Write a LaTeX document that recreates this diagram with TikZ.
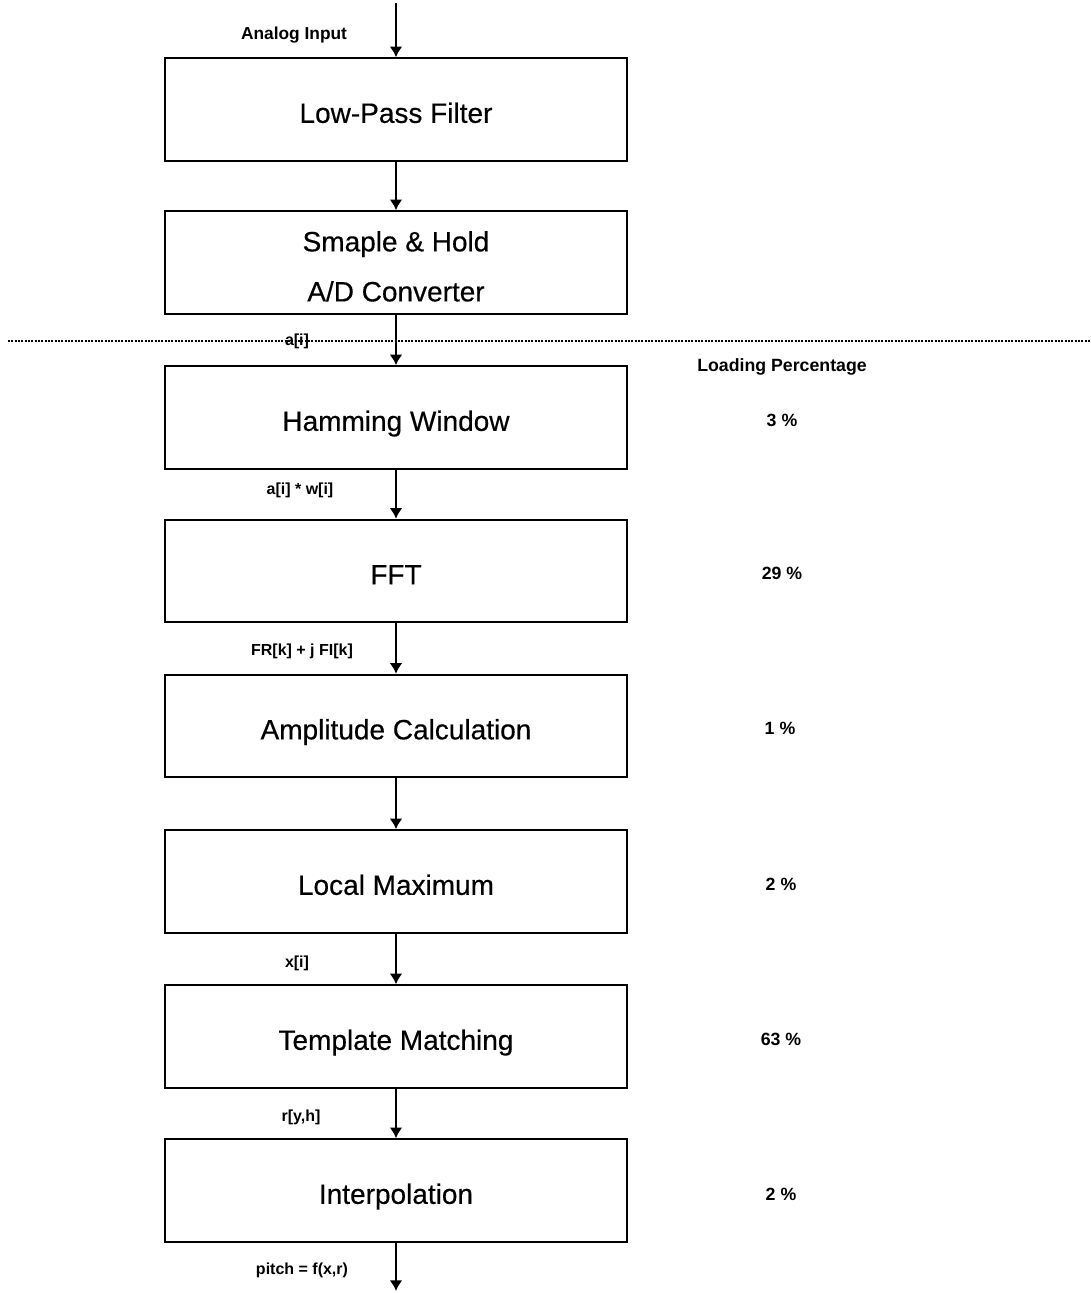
\documentclass[tikz,border=0pt]{standalone}
\usepackage{fontspec}
\setmainfont{Liberation Sans}
\newfontfamily\boxfont[FakeBold=0.4]{Liberation Sans}
\usetikzlibrary{arrows.meta}
\begin{document}
\begin{tikzpicture}[x=0.75pt,y=-0.75pt,
  stagebox/.style={draw, line width=1.4pt, minimum width=346.5pt, minimum height=77pt,
    inner sep=0pt, font=\boxfont\fontsize{21}{37.5}\selectfont, align=center},
  oneline/.style={text height=20pt, text depth=0pt},
  arr/.style={line width=1.3pt, -{Latex[length=8pt,width=9.5pt]}},
  lbl/.style={font=\bfseries\fontsize{12}{14}\selectfont, inner sep=0pt},
  pct/.style={font=\bfseries\fontsize{13.3}{15}\selectfont, inner sep=0pt}]
\useasboundingbox (0,0) rectangle (1090,1293);
% stages
\node[stagebox, oneline] (lpf) at (396,109.5) {Low-Pass Filter};
\node[stagebox] (sh)  at (396,262.5) {\rule{0pt}{21pt}Smaple \& Hold\\A/D Converter};
\node[stagebox, oneline] (ham) at (396,417.5) {Hamming Window};
\node[stagebox, oneline] (fft) at (396,571) {FFT};
\node[stagebox, oneline] (amp) at (396,726) {Amplitude Calculation};
\node[stagebox, oneline] (lmx) at (396,881.5) {Local Maximum};
\node[stagebox, oneline] (tpl) at (396,1036.5) {Template Matching};
\node[stagebox, oneline] (itp) at (396,1190.5) {Interpolation};
% free ends
\coordinate (in) at (396,3);
\coordinate (out) at (396,1291);
\coordinate (dl) at (8,341);
\coordinate (dr) at (1090,341);
% separator
\draw[line width=1pt, dash pattern=on 1.5pt off 1pt] (dl) -- (dr);
% connectors
\draw[arr] (in) -- (lpf);
\draw[arr] (lpf) -- (sh);
\draw[arr] (sh) -- (ham);
\draw[arr] (ham) -- (fft);
\draw[arr] (fft) -- (amp);
\draw[arr] (amp) -- (lmx);
\draw[arr] (lmx) -- (tpl);
\draw[arr] (tpl) -- (itp);
\draw[arr] (itp) -- (out);
% signal labels
\node[lbl, font=\bfseries\fontsize{13}{15}\selectfont] (lin) at (294,35) {Analog Input};
\node[lbl] (lai) at (297,341) {a[i]};
\node[lbl] (law) at (300,490) {a[i] * w[i]};
\node[lbl] (lfr) at (302,651) {FR[k] + j FI[k]};
\node[lbl] (lxi) at (297,963) {x[i]};
\node[lbl] (lry) at (301,1117) {r[y,h]};
\node[lbl] (lpi) at (302,1270) {pitch = f(x,r)};
% loading percentages
\node[pct] (lph) at (782,367) {Loading Percentage};
\node[pct] (p1) at (782,420) {3 \%};
\node[pct] (p2) at (782,573) {29 \%};
\node[pct] (p3) at (780,728) {1 \%};
\node[pct] (p4) at (781,884) {2 \%};
\node[pct] (p5) at (781,1039) {63 \%};
\node[pct] (p6) at (781,1194) {2 \%};
\end{tikzpicture}
\end{document}
